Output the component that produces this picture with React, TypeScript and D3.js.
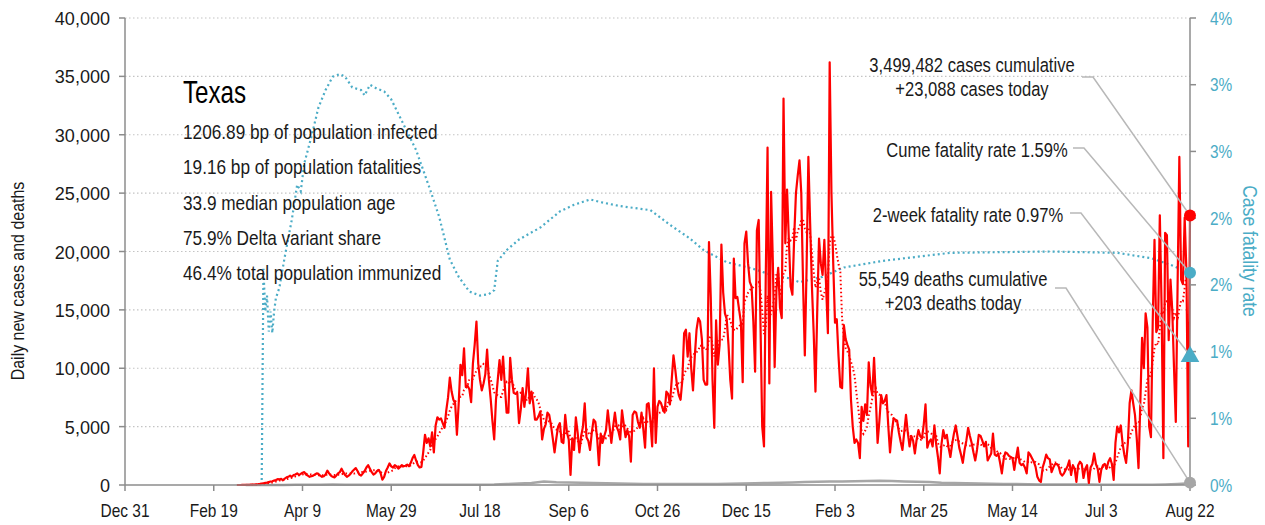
import { useEffect, useRef } from "react";
import * as d3 from "d3";

// 좁은 글꼴이 없으므로 Liberation Sans 를 가로로 눌러서 사용
const FONT = '"Liberation Sans", Arial, sans-serif';
const RED = "#ff0000";
const TEAL = "#4bacc6";
const GRAY = "#a6a6a6";
const INK = "#1a1a1a";

// 축 시작/끝 날짜
const axisStart = new Date(Date.UTC(2019, 11, 31));
const lastDay = new Date(Date.UTC(2021, 7, 22));

// 일별 신규 확진 (2020-03-03 ~ 2021-08-22), 그림에서 읽은 값
const dailyCases = [
  0, 1, 1, 3, 5, 8, 10, 15, 25, 30, 40, 55, 70, 90, 120,
  150, 180, 200, 250, 300, 320, 380, 420, 500, 480, 520, 400,
  550, 650, 700, 800, 700, 850, 900, 1000, 850, 950,
  1050, 1100, 900, 800, 700, 750, 800, 900, 1000, 950, 800, 700, 750, 900,
  1230, 1000, 800, 700, 650, 800, 1000, 1100, 1400, 1100, 850, 700, 800, 950, 1150, 1300,
  1450, 1200, 900, 800, 1000, 1200, 1500, 1700, 1400, 1100, 900, 1000, 1200, 1300, 1000, 450, 700, 1200, 1500, 1850,
  1600, 1500, 1700, 1600, 1400, 1550, 1700, 1600, 1650, 1750, 1600, 1900, 2300, 2570, 2100, 1700,
  1500, 1550, 2800, 4300, 3600, 4000, 3300, 4500, 2800, 5100, 5800, 5600, 5700, 5300, 4900, 6400, 7500, 9200,
  8000, 7300, 7000, 4300, 7000, 10300, 9400, 11700, 8400, 8500,
  8200, 7100, 10400, 12000, 14000, 10400, 9000, 8100, 8700, 9500,
  11600, 9000, 7400, 5500, 3900, 7300, 9000, 10700, 9000, 11000,
  8500, 6200, 6200, 10900, 9000, 7900, 7800, 7900, 5300, 6500,
  8300, 6700, 8000, 10000, 7000, 8000, 7000, 5600, 5600, 5900,
  6300, 3900, 4800, 5200, 6200, 6000, 5100, 4000, 2800, 4000,
  5000, 5300, 3700, 3600, 6000, 4500, 3900, 860, 4000, 3000,
  5800, 4500, 2800, 4200, 5000, 7000, 4100, 3800, 3000, 4500,
  5600, 5400, 4000, 1700, 4400, 3600, 4200, 4700, 6400, 5000,
  3600, 5000, 6200, 5000, 4600, 3900, 6400, 5200, 4100, 4700,
  4200, 2000, 6000, 6300, 6200, 5400, 4900, 6200, 4800, 3200,
  6900, 7000, 5500, 3300, 10000, 3600, 6700, 7200, 7000, 6500,
  6200, 8000, 7800, 6900, 9000, 11100, 9900, 8500, 7700, 7300,
  9000, 13000, 13300, 11000, 13000, 10000, 8100, 11000, 13300, 14300,
  14000, 12500, 9000, 8600, 8600, 20800, 16100, 9000, 4900, 14100,
  10300, 12000, 20600, 16500, 14700, 14200, 12000, 9000, 7400, 19400,
  16000, 16100, 15000, 13900, 8800, 20700, 21700, 19000, 17400, 17000,
  14000, 9700, 21800, 22700, 14000, 5000, 3300, 18000, 28900, 8700,
  25100, 19000, 10100, 16700, 18600, 15200, 14300, 33100, 20700, 25300,
  21000, 17000, 16300, 21200, 25000, 26500, 27800, 25000, 17300, 11100,
  18700, 28100, 22400, 17000, 13000, 8000, 15000, 21100, 19000, 18000,
  21000, 17000, 13000, 36200, 25000, 19000, 13900, 14200, 11000, 8400,
  8300, 13700, 12500, 12000, 11600, 7300, 5000, 3600, 3900, 3600,
  2300, 6700, 5500, 6900, 6000, 10500, 8500, 7700, 10900, 7500,
  3600, 5500, 7700, 7000, 7200, 7700, 5100, 2800, 4500, 5700,
  5600, 5500, 4500, 3700, 3000, 4500, 6000, 4500, 3300, 4200,
  3800, 2700, 3900, 4700, 4200, 4000, 5200, 6900, 3200, 3700,
  3900, 3300, 5100, 3500, 2400, 1000, 3500, 4700, 4000, 4300,
  3200, 2400, 3500, 4400, 5100, 4200, 3200, 2600, 1900, 3000,
  3800, 4900, 4200, 3600, 2800, 2100, 3000, 4300, 4200, 3800,
  3300, 3700, 2100, 2400, 2700, 4400, 2600, 2500, 2700, 1900,
  1000, 2200, 2800, 2700, 2500, 2400, 2300, 1300, 2300, 3200,
  1900, 1700, 1800, 1500, 1000, 2800, 2600, 2300, 2000, 1550,
  700, 400, 260, 1500, 2000, 2600, 2300, 2200, 1100, 1500,
  1800, 1800, 1600, 1000, 800, 1000, 1300, 1600, 2100, 860,
  1700, 1400, 260, 1700, 2000, 1800, 600, 1400, 1700, 170,
  1500, 1800, 2700, 1800, 1400, 260, 1300, 1700, 1800, 1400,
  2000, 2300, 1800, 430, 3600, 5000, 4500, 5100, 3600, 2600,
  1900, 3600, 7000, 8100, 7000, 6000, 4000, 1450, 7000, 12600,
  10000, 14700, 13500, 5000, 4100, 14000, 21000, 13100, 13500, 23100,
  15200, 2300, 21600, 21400, 12400, 17600, 15000, 10000, 5400, 17000,
  28100, 17600, 17200, 22900, 18200, 3300, 23088,
];

// 주간 신규 사망 (일평균), 마지막 값이 2021-08-22
const weeklyDeaths = [
  0, 1, 3, 8, 15, 25, 30, 35, 30, 30, 30, 30, 30, 30, 30, 25, 25, 25, 25, 30,
  40, 80, 120, 170, 300, 230, 220, 200, 180, 150, 120, 100, 90, 80, 80, 80, 80, 80, 90, 110,
  130, 150, 180, 200, 220, 250, 270, 300, 300, 330, 350, 360, 340, 300, 280, 250, 200, 180, 150, 120,
  100, 90, 80, 60, 50, 45, 40, 35, 35, 30, 30, 30, 25, 30, 50, 90, 150,
];

// 치명률 [2019-12-31 기준 일수, %]
const cfrPoints: [number, number][] = [
  [77, 0], [78, 1.62], [79, 1.3], [80, 1.42], [81, 1.15], [82, 1.3], [83, 1.14], [84, 1.3],
  [85, 1.4], [87, 1.48], [90, 1.71], [94, 1.99], [97, 2.25], [99, 2.2], [101, 2.41], [105, 2.61],
  [109, 2.83], [113, 2.96], [117, 3.06], [121, 3.08], [124, 3.06], [128, 2.98], [133, 2.96],
  [135, 2.92], [138, 3.0], [142, 2.97], [146, 2.95], [150, 2.89], [157, 2.7], [164, 2.51],
  [172, 2.21], [177, 2.01], [183, 1.69], [188, 1.56], [194, 1.45], [200, 1.42], [205, 1.43],
  [208, 1.46], [210, 1.68], [215, 1.76], [222, 1.84], [234, 1.93], [245, 2.05], [253, 2.1],
  [262, 2.14], [268, 2.12], [279, 2.09], [296, 2.06], [307, 1.95], [318, 1.85], [326, 1.76],
  [339, 1.67], [354, 1.62], [363, 1.58], [374, 1.55], [380, 1.52], [393, 1.56], [405, 1.63],
  [427, 1.68], [465, 1.74], [521, 1.75], [559, 1.74], [578, 1.7], [589, 1.65], [600, 1.59],
];

const leftTicks = [0, 5000, 10000, 15000, 20000, 25000, 30000, 35000, 40000];
const rightTicks = [0, 0.5, 1, 1.5, 2, 2.5, 3, 3.5];
const xTickDays = [0, 50, 100, 150, 200, 250, 300, 350, 400, 450, 500, 550, 600];

const stateName = "Texas";
const statLines = [
  "1206.89 bp of population infected",
  "19.16 bp of population fatalities",
  "33.9 median population age",
  "75.9% Delta variant share",
  "46.4% total population immunized",
];

const casesCumulative = 3499482;
const deathsCumulative = 55549;
const casesToday = 23088;
const deathsToday = 203;
const cumeFatality = 1.59;
const twoWeekFatality = 0.97;

export default function App() {
  const svgRef = useRef<SVGSVGElement>(null);

  useEffect(() => {
    if (!svgRef.current) return;
    const svg = d3.select(svgRef.current);
    svg.selectAll("*").remove();

    const L = 125, R = 1190, T = 18, B = 485;
    const day = (n: number) => d3.utcDay.offset(axisStart, n);
    const x = d3.scaleUtc().domain([axisStart, lastDay]).range([L, R]);
    const yL = d3.scaleLinear().domain([0, 40000]).range([B, T]);
    const yR = d3.scaleLinear().domain([0, 3.5]).range([B, T]);

    const casesStart = d3.utcDay.offset(lastDay, -(dailyCases.length - 1));
    const cases = dailyCases.map((v, i) => ({ d: d3.utcDay.offset(casesStart, i), v }));
    const avg = cases.slice(6).map((c, i) => ({
      d: c.d,
      v: d3.mean(dailyCases.slice(i, i + 7))!,
    }));
    const deaths = weeklyDeaths.map((v, i) => ({
      d: d3.utcDay.offset(lastDay, -7 * (weeklyDeaths.length - 1 - i)),
      v,
    }));

    // 그리드
    svg.append("g").selectAll("line")
      .data(leftTicks.slice(1))
      .join("line")
      .attr("x1", L).attr("x2", R)
      .attr("y1", (d) => yL(d)).attr("y2", (d) => yL(d))
      .attr("stroke", "#c4c4c4").attr("stroke-width", 1.2).attr("stroke-dasharray", "1.5,2.5");

    // 치명률
    const cfrLine = d3.line<[number, number]>().x((p) => x(day(p[0]))).y((p) => yR(p[1]));
    svg.append("path").datum(cfrPoints)
      .attr("fill", "none").attr("stroke", TEAL).attr("stroke-width", 2.2)
      .attr("stroke-dasharray", "2,3").attr("d", cfrLine);

    const line = d3.line<{ d: Date; v: number }>().x((p) => x(p.d)).y((p) => yL(p.v));

    // 사망
    svg.append("path").datum(deaths)
      .attr("fill", "none").attr("stroke", GRAY).attr("stroke-width", 2.5).attr("d", line);

    // 확진
    svg.append("path").datum(cases)
      .attr("fill", "none").attr("stroke", RED).attr("stroke-width", 2.2)
      .attr("stroke-linejoin", "round").attr("d", line);
    svg.append("path").datum(avg)
      .attr("fill", "none").attr("stroke", RED).attr("stroke-width", 2)
      .attr("stroke-dasharray", "1.5,2.5").attr("d", line);

    // 축
    const axisColor = "#8c8c8c";
    const ax = svg.append("g").attr("stroke", axisColor).attr("stroke-width", 1.5);
    ax.append("line").attr("x1", L).attr("x2", L).attr("y1", T).attr("y2", B);
    ax.append("line").attr("x1", R).attr("x2", R).attr("y1", T).attr("y2", B);
    ax.append("line").attr("x1", L).attr("x2", R).attr("y1", B).attr("y2", B);
    ax.selectAll(".tl").data(leftTicks).join("line")
      .attr("x1", L - 6).attr("x2", L).attr("y1", (d) => yL(d)).attr("y2", (d) => yL(d));
    ax.selectAll(".tr").data(rightTicks).join("line")
      .attr("x1", R).attr("x2", R + 6).attr("y1", (d) => yR(d)).attr("y2", (d) => yR(d));
    ax.selectAll(".tb").data(xTickDays).join("line")
      .attr("x1", (d) => x(day(d))).attr("x2", (d) => x(day(d))).attr("y1", B).attr("y2", B + 6);

    const txt = svg.append("g").attr("font-family", FONT);
    const at = (px: number, py: number, sx: number, rot = 0) =>
      `translate(${px},${py})${rot ? ` rotate(${rot})` : ""} scale(${sx},1)`;

    txt.selectAll(".ll").data(leftTicks).join("text")
      .attr("transform", (d) => at(L - 15, yL(d) + 7, 0.95))
      .attr("text-anchor", "end").attr("font-size", 19).attr("fill", INK)
      .text((d) => d3.format(",")(d));
    txt.selectAll(".rl").data(rightTicks).join("text")
      .attr("transform", (d) => at(R + 20, yR(d) + 6.5, 0.88))
      .attr("font-size", 17.5).attr("fill", TEAL)
      .text((d) => `${Math.round(d)}%`);
    const fmt = d3.utcFormat("%b %-d");
    txt.selectAll(".bl").data(xTickDays).join("text")
      .attr("transform", (d) => at(x(day(d)), 517, 0.86))
      .attr("text-anchor", "middle").attr("font-size", 18).attr("fill", INK)
      .text((d) => fmt(day(d)));

    txt.append("text")
      .attr("transform", at(24, 281, 0.84, -90))
      .attr("text-anchor", "middle").attr("font-size", 19).attr("fill", INK)
      .text("Daily new cases and deaths");
    txt.append("text")
      .attr("transform", at(1243, 251, 0.9, 90))
      .attr("text-anchor", "middle").attr("font-size", 19.5).attr("fill", TEAL)
      .text("Case fatality rate");

    // 주 정보
    txt.append("text").attr("transform", at(183, 103, 0.78))
      .attr("font-size", 31).attr("fill", "#000").text(stateName);
    txt.selectAll(".st").data(statLines).join("text")
      .attr("transform", (_, i) => at(183, 139 + i * 35.3, 0.82))
      .attr("font-size", 21).attr("fill", INK)
      .text((d) => d);

    // 주석 + 지시선
    const ex = x(lastDay);
    const f = d3.format(",");
    const notes = [
      { lines: [`${f(casesCumulative)} cases cumulative`, `+${f(casesToday)} cases today`], cx: 972, y: 72, lx: 1082, ly: 77, ty: yL(casesToday) },
      { lines: [`Cume fatality rate ${cumeFatality}%`], cx: 977, y: 157, lx: 1073, ly: 148, ty: yR(cumeFatality) },
      { lines: [`2-week fatality rate ${twoWeekFatality}%`], cx: 968, y: 222, lx: 1070, ly: 213, ty: yR(twoWeekFatality) },
      { lines: [`${f(deathsCumulative)} deaths cumulative`, `+${deathsToday} deaths today`], cx: 953, y: 286, lx: 1055, ly: 288, ty: yL(deathsToday) },
    ];
    notes.forEach((n) => {
      n.lines.forEach((s, i) => {
        txt.append("text").attr("transform", at(n.cx, n.y + i * 24, 0.85))
          .attr("text-anchor", "middle").attr("font-size", 19.5).attr("fill", INK).text(s);
      });
      svg.append("polyline")
        .attr("points", `${n.lx},${n.ly} ${n.lx + 11},${n.ly} ${ex},${n.ty}`)
        .attr("fill", "none").attr("stroke", "#b8b8b8").attr("stroke-width", 1.5);
    });

    // 마지막 값 마커
    svg.append("circle").attr("cx", ex).attr("cy", yL(casesToday)).attr("r", 6).attr("fill", RED);
    svg.append("circle").attr("cx", ex).attr("cy", yR(cumeFatality)).attr("r", 6).attr("fill", TEAL);
    svg.append("path")
      .attr("d", d3.symbol(d3.symbolTriangle, 150)())
      .attr("transform", `translate(${ex},${yR(twoWeekFatality) + 1})`)
      .attr("fill", TEAL);
    svg.append("circle").attr("cx", ex).attr("cy", yL(deathsToday)).attr("r", 6).attr("fill", GRAY);
  }, []);

  return (
    <svg
      ref={svgRef}
      width={1265}
      height={525}
      style={{ position: "absolute", left: 0, top: 0, background: "#fff" }}
    />
  );
}
